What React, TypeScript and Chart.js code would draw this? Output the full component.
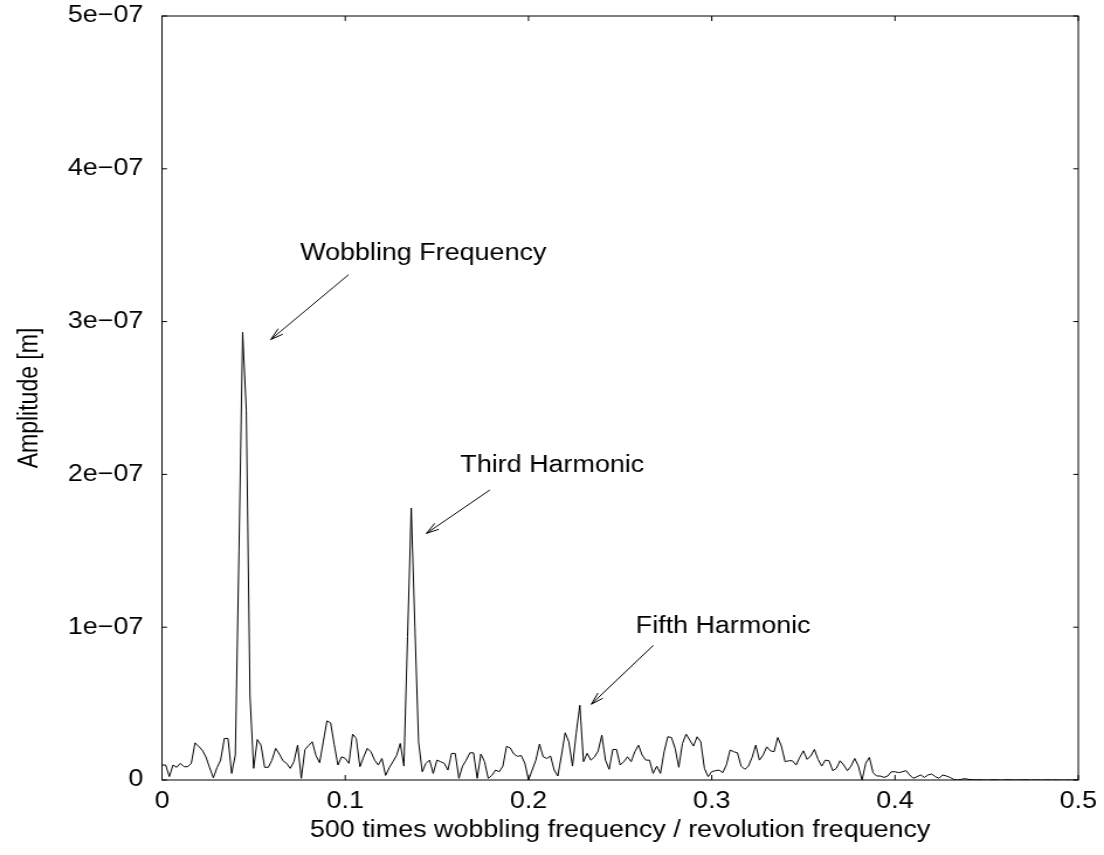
import React, { useEffect, useRef } from "react";
import { Chart, registerables } from "chart.js";

Chart.register(...registerables);

// Spectrum bins (frequency step between successive samples)
const binWidth = 0.002;
const ampUnit = 1e-8; // amplitudes below are listed in units of 1e-8 m

const amplitudeE8 = [
  0.98, 0.98, 0.22, 0.98, 0.83, 1.09, 0.87, 0.87, 1.1, 2.43,
  2.2, 1.95, 1.5, 0.8, 0.15, 0.8, 1.3, 2.72, 2.72, 0.43,
  1.63, 15.0, 29.3, 24.2, 5.5, 0.76, 2.65, 2.28, 0.83, 0.83,
  1.3, 2.07, 1.7, 1.26, 1.09, 0.76, 1.2, 2.28, 0.11, 2.0,
  2.25, 2.5, 1.6, 1.13, 2.5, 3.87, 3.74, 2.3, 0.98, 1.52,
  1.41, 1.09, 3.0, 2.72, 0.87, 1.5, 2.07, 1.85, 1.3, 0.98,
  1.41, 0.3, 0.8, 1.2, 1.6, 2.39, 0.91, 9.4, 17.8, 10.0,
  2.5, 0.54, 1.09, 1.3, 0.43, 1.3, 1.2, 1.09, 0.65, 1.74,
  1.74, 0.11, 0.91, 1.3, 1.78, 1.78, 0.11, 1.7, 1.2, 0.11,
  0.3, 0.65, 0.54, 0.9, 2.2, 2.1, 1.7, 1.55, 1.6, 1.1,
  0.0, 0.65, 1.3, 2.35, 1.52, 1.41, 1.57, 0.65, 0.26, 1.63,
  3.09, 2.5, 0.91, 3.04, 4.89, 1.2, 1.74, 1.3, 1.5, 1.9,
  2.93, 1.3, 0.7, 2.0, 2.0, 0.98, 1.2, 1.52, 1.2, 1.85,
  2.28, 1.63, 1.3, 1.3, 0.43, 0.91, 0.43, 1.85, 2.83, 2.78,
  2.07, 0.83, 2.39, 3.0, 2.61, 2.22, 2.83, 2.5, 0.76, 0.22,
  0.55, 0.61, 0.65, 0.48, 1.0, 1.96, 1.85, 1.78, 0.91, 0.7,
  0.9, 1.48, 2.28, 1.3, 1.63, 2.17, 1.91, 1.85, 2.78, 2.22,
  1.2, 1.26, 1.26, 0.98, 1.48, 1.91, 1.35, 1.57, 2.0, 1.35,
  0.91, 1.3, 1.26, 0.61, 0.76, 1.26, 0.98, 0.61, 0.91, 1.41,
  0.91, 0.0, 1.09, 1.48, 0.48, 0.26, 0.26, 0.17, 0.26, 0.54,
  0.54, 0.48, 0.54, 0.61, 0.33, 0.11, 0.22, 0.33, 0.17, 0.33,
  0.39, 0.22, 0.11, 0.33, 0.26, 0.17, 0.04, 0.0, 0.04, 0.09,
  0.04, 0.02, 0.01, 0.02, 0.01, 0.0, 0.01, 0.02, 0.01, 0.0,
  0.01, 0.02, 0.01, 0.0, 0.01, 0.01, 0.02, 0.0, 0.01, 0.01,
  0.0, 0.01, 0.01, 0.0, 0.01, 0.0, 0.0, 0.01, 0.0, 0.0, 0.0,
];

const xTickValues = [0, 0.1, 0.2, 0.3, 0.4, 0.5];
const xTickLabels = ["0", "0.1", "0.2", "0.3", "0.4", "0.5"];
const yTickValues = [0, 1e-7, 2e-7, 3e-7, 4e-7, 5e-7];
const yTickLabels = ["0", "1e\u221207", "2e\u221207", "3e\u221207", "4e\u221207", "5e\u221207"];

const xTitle = "500 times wobbling frequency / revolution frequency";
const yTitle = "Amplitude [m]";

const annotationLabels = ["Wobbling Frequency", "Third Harmonic", "Fifth Harmonic"];
const labelX = [0.0754, 0.1628, 0.2585];
const labelY = [3.447e-7, 2.056e-7, 1.0007e-7];
const arrowFromX = [0.1018, 0.1789, 0.2681];
const arrowFromY = [3.307e-7, 1.898e-7, 0.881e-7];
const arrowToX = [0.0594, 0.1443, 0.2343];
const arrowToY = [2.883e-7, 1.614e-7, 0.496e-7];

const FONT_FAMILY = "'Liberation Sans', Arial, Helvetica, sans-serif";
const FONT_SIZE = 23;

// Canvas is drawn narrower and stretched horizontally by CSS (like the reference).
const PAGE_W = 1104;
const PAGE_H = 855;
const CANVAS_W = 944;
const SX = PAGE_W / CANVAS_W;

const framePlugin = {
  id: "gnuplotFrame",
  afterDraw(chart: any) {
    const { ctx, chartArea: a, scales } = chart;
    const xs = scales.x;
    const ys = scales.y;
    ctx.save();
    ctx.strokeStyle = "#000";
    ctx.lineWidth = 1;
    ctx.strokeRect(a.left, a.top, a.right - a.left, a.bottom - a.top);
    ctx.beginPath();
    const tl = 5;
    xTickValues.forEach((v) => {
      const px = xs.getPixelForValue(v);
      ctx.moveTo(px, a.bottom);
      ctx.lineTo(px, a.bottom - tl);
      ctx.moveTo(px, a.top);
      ctx.lineTo(px, a.top + tl);
    });
    yTickValues.forEach((v) => {
      const py = ys.getPixelForValue(v);
      ctx.moveTo(a.left, py);
      ctx.lineTo(a.left + tl / SX, py);
      ctx.moveTo(a.right, py);
      ctx.lineTo(a.right - tl / SX, py);
    });
    ctx.stroke();

    ctx.font = `${FONT_SIZE}px ${FONT_FAMILY}`;
    ctx.fillStyle = "#000";
    ctx.textAlign = "left";
    ctx.textBaseline = "middle";
    annotationLabels.forEach((t, i) => {
      ctx.fillText(t, xs.getPixelForValue(labelX[i]), ys.getPixelForValue(labelY[i]));
      const x1 = xs.getPixelForValue(arrowFromX[i]);
      const y1 = ys.getPixelForValue(arrowFromY[i]);
      const x2 = xs.getPixelForValue(arrowToX[i]);
      const y2 = ys.getPixelForValue(arrowToY[i]);
      const dxp = (x2 - x1) * SX;
      const dyp = y2 - y1;
      const ang = Math.atan2(dyp, dxp);
      const hl = 13;
      const spread = (16 * Math.PI) / 180;
      ctx.beginPath();
      ctx.moveTo(x1, y1);
      ctx.lineTo(x2, y2);
      for (const s of [-spread, spread]) {
        const hx = x2 - (hl * Math.cos(ang + s)) / SX;
        const hy = y2 - hl * Math.sin(ang + s);
        ctx.moveTo(x2, y2);
        ctx.lineTo(hx, hy);
      }
      ctx.stroke();
    });
    ctx.restore();
  },
};

export default function App() {
  const canvasRef = useRef<HTMLCanvasElement | null>(null);

  useEffect(() => {
    const canvas = canvasRef.current;
    if (!canvas) return;
    const points = amplitudeE8.map((v, i) => ({ x: i * binWidth, y: v * ampUnit }));
    const font = { family: FONT_FAMILY, size: FONT_SIZE };
    const chart = new Chart(canvas, {
      type: "line",
      data: {
        datasets: [
          {
            data: points,
            borderColor: "#000",
            borderWidth: 1,
            pointRadius: 0,
            tension: 0,
            fill: false,
          },
        ],
      },
      options: {
        responsive: false,
        animation: false,
        devicePixelRatio: 1,
        layout: { padding: { left: 0, right: 22, top: 16, bottom: 0 } },
        plugins: {
          legend: { display: false },
          tooltip: { enabled: false },
        },
        scales: {
          x: {
            type: "linear",
            min: 0,
            max: 0.5,
            grid: { display: false, drawTicks: false },
            border: { display: false },
            ticks: {
              stepSize: 0.1,
              color: "#000",
              font,
              padding: 8,
              maxRotation: 0,
              callback: (_v: any, i: number) => xTickLabels[i],
            },
            title: {
              display: true,
              text: xTitle,
              color: "#000",
              font,
              padding: { top: 0, bottom: 11 },
            },
            afterFit: (s: any) => {
              s.height = PAGE_H - 780;
              s.paddingLeft = 0;
              s.paddingRight = 0;
            },
          },
          y: {
            type: "linear",
            min: 0,
            max: 5e-7,
            grid: { display: false, drawTicks: false },
            border: { display: false },
            ticks: {
              stepSize: 1e-7,
              color: "#000",
              font,
              padding: 16,
              callback: (_v: any, i: number) => yTickLabels[i],
            },
            title: {
              display: true,
              text: yTitle,
              color: "#000",
              font,
              padding: { top: 12, bottom: 0 },
            },
            afterFit: (s: any) => {
              s.width = 162 / SX;
              s.paddingTop = 0;
              s.paddingBottom = 0;
            },
          },
        },
      },
      plugins: [framePlugin],
    });
    return () => chart.destroy();
  }, []);

  return (
    <div style={{ position: "fixed", left: 0, top: 0, width: PAGE_W, height: PAGE_H, background: "#fff" }}>
      <canvas
        ref={canvasRef}
        width={CANVAS_W}
        height={PAGE_H}
        style={{ width: `${PAGE_W}px`, height: `${PAGE_H}px`, display: "block" }}
      />
    </div>
  );
}
